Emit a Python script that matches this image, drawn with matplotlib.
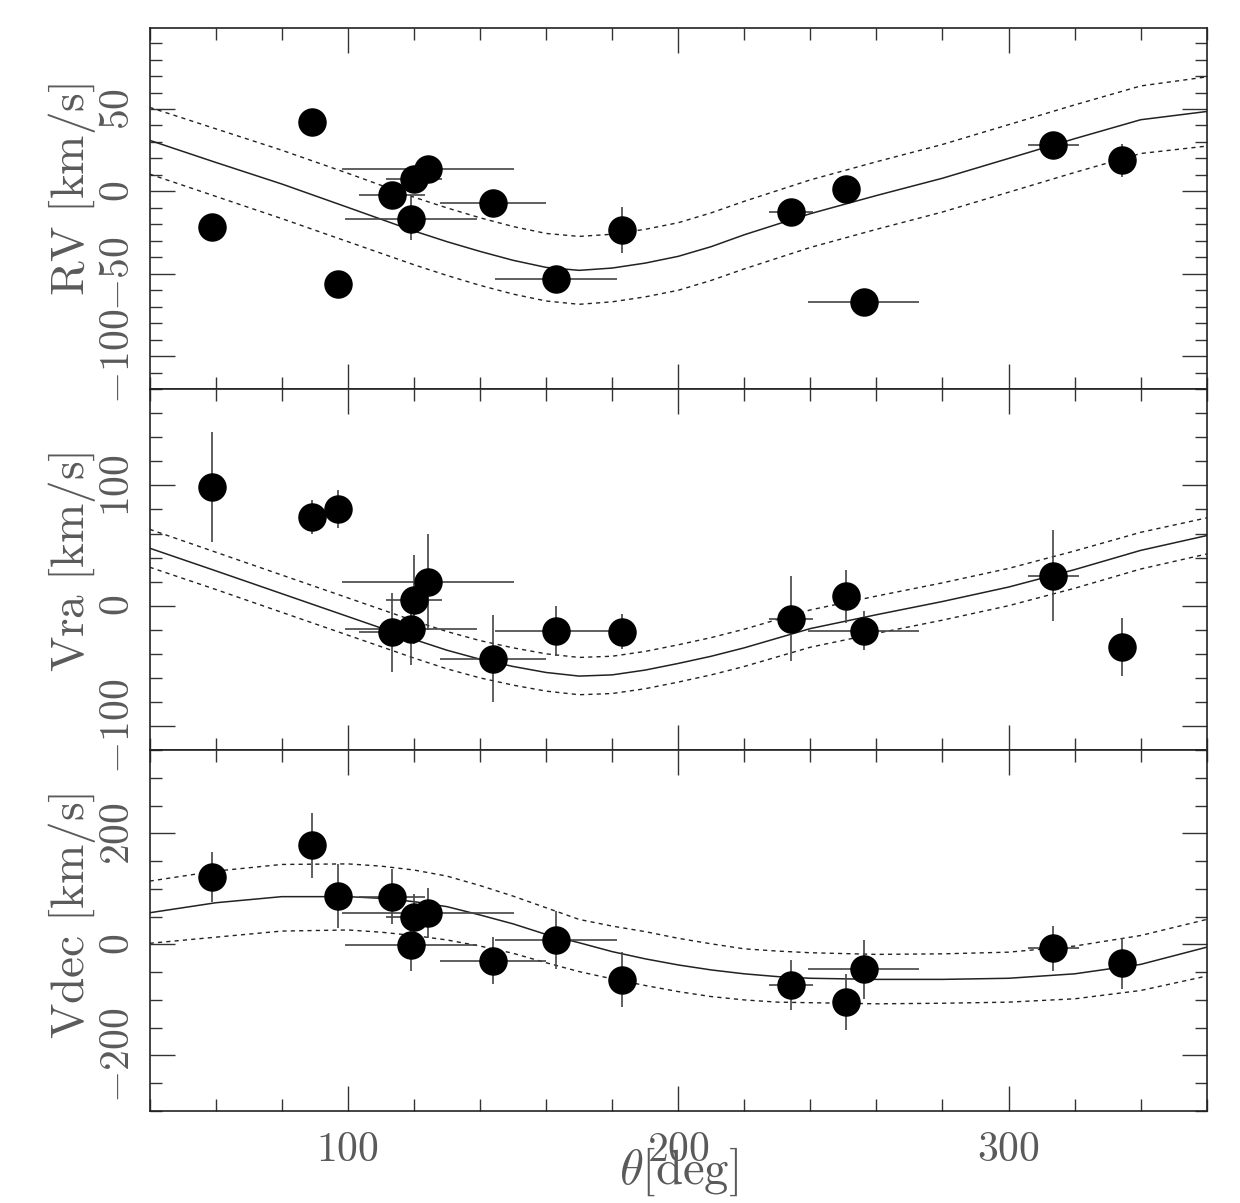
import matplotlib
matplotlib.use("Agg")
import matplotlib.pyplot as plt
from matplotlib.ticker import MultipleLocator, FuncFormatter

plt.rcParams['mathtext.fontset'] = 'cm'

# --- measured stars ---
theta = [59.0, 89.2, 97.1, 113.3, 119.0, 120.0, 124.3, 144.0, 162.9, 182.9,
         234.2, 250.8, 256.2, 313.6, 334.2]
theta_err = [0, 0, 0, 10, 20, 8.5, 26, 16, 18.5, 0, 6.6, 0, 16.8, 7.7, 0]

rv = [-21.6, 42.1, -56.2, -2.0, -16.6, 7.5, 13.8, -7.0, -53.0, -23.2,
      -12.7, 1.6, -67.1, 28.3, 19.0]
rv_err = [4, 4, 4, 4, 13, 4, 4, 4, 4, 14, 4, 4, 4, 4, 10]

vra = [98.8, 73.7, 80.4, -22.1, -19.3, 5.0, 19.6, -43.9, -21.0, -21.8,
       -10.8, 7.7, -20.7, 24.9, -34.5]
vra_err = [46, 14, 16, 33, 30, 37, 40, 36.5, 20.7, 14.5, 35.5, 22, 16, 37.7, 24]

vdec = [121.3, 178.4, 87, 86, -0.5, 49.9, 57, -29.4, 7.8, -63.6,
        -73.9, -104, -45, -7.2, -34.2]
vdec_err = [45, 58, 58, 50, 48, 40, 45, 42, 52, 50, 45, 50, 53, 40, 46]

# --- model curves ---
th_m = [40, 60, 80, 100, 120, 130, 140, 150, 160, 170, 180, 190, 200, 210, 220,
        240, 260, 280, 300, 320, 340, 360]
rv_mod = [31, 17.6, 4.5, -9.7, -24, -30.5, -36.4, -41.8, -46.1, -47.9, -46.5, -43.5,
          -39.4, -33.5, -26.3, -13.5, -2.5, 8, 20, 32, 43.5, 48.5]
rv_hi = [51, 38, 25, 11, -3.5, -10, -16, -21.3, -25.5, -27.3, -26, -23, -19, -13, -6,
         7, 18, 28.5, 40.5, 52.5, 64, 69.5]
rv_lo = [10.5, -3, -16.5, -30.5, -44.5, -51, -57, -62.3, -66.5, -68.5, -67, -64,
         -60, -54, -47, -34, -23, -12.5, -0.5, 11.5, 23, 27.5]

vra_mod = [47.8, 29, 10, -9, -28, -37, -44.5, -50.5, -55.5, -58.5, -57.5, -53.5,
           -48, -42, -35, -19, -7.5, 3.5, 15.5, 30, 46, 58.3]
vra_hi = [63.5, 44.5, 25.5, 6.5, -12.5, -21.5, -29, -35, -40, -43, -42, -38,
          -32.5, -26.5, -19.5, -3.5, 8, 19, 31, 45.5, 61, 73]
vra_lo = [32, 13.5, -5.5, -24.5, -43.5, -52.5, -60, -66, -71, -74, -73, -69,
          -63.5, -57.5, -50.5, -34.5, -23, -12, 0, 14.5, 30.5, 43]

th_d = [40, 60, 80, 100, 110, 120, 130, 140, 150, 160, 170, 180, 190, 200, 210, 220,
        230, 240, 260, 280, 300, 320, 340, 360]
vdec_mod = [57, 75, 86, 86, 83, 77, 68, 53, 37, 18, 3, -13, -26, -37, -46, -53,
            -58, -61, -63, -63, -61, -53, -36, -5]
vdec_hi = [114, 132, 144, 145, 141, 134, 123, 106, 87, 66, 45, 33, 23, 11, 1, -8,
           -12, -15, -18, -17, -14, -3, 16, 45]
vdec_lo = [2, 13, 24, 26, 22, 16, 8, -3, -16, -33, -49, -62, -74, -85, -94, -100,
           -104, -105, -107, -106, -104, -98, -83, -57]

panels = [
    (rv, rv_err, th_m, rv_mod, rv_hi, rv_lo, (-120, 99), 50, 10,
     r'$\mathrm{RV\ [km/s]}$', 0.552),
    (vra, vra_err, th_m, vra_mod, vra_hi, vra_lo, (-120, 180), 100, 20,
     r'$\mathrm{Vra\ [km/s]}$', 0.521),
    (vdec, vdec_err, th_d, vdec_mod, vdec_hi, vdec_lo, (-300, 350), 200, 50,
     r'$\mathrm{Vdec\ [km/s]}$', 0.540),
]

TXT = '#5a5a5a'
fig = plt.figure(figsize=(12.4, 12.03), dpi=100)
gs = fig.add_gridspec(3, 1, left=0.1207, right=0.9732, top=0.9765, bottom=0.0765, hspace=0)

fmt = FuncFormatter(lambda v, p: r'$%d$' % v)

for i, (vals, errs, thm, mod, hi, lo, ylim, major, minor, ylab, ly) in enumerate(panels):
    ax = fig.add_subplot(gs[i])
    ax.errorbar(theta, vals, xerr=theta_err, yerr=errs, fmt='o', ms=19.5,
                mfc='k', mec='k', ecolor='#444444', elinewidth=1.2, capsize=0, zorder=3)
    ax.plot(thm, mod, color='#222222', lw=1.1)
    ax.plot(thm, hi, color='#222222', lw=1.0, ls=(0, (3, 3)))
    ax.plot(thm, lo, color='#222222', lw=1.0, ls=(0, (3, 3)))

    ax.set_xlim(40, 360)
    ax.set_ylim(*ylim)
    ax.xaxis.set_major_locator(MultipleLocator(100))
    ax.xaxis.set_minor_locator(MultipleLocator(20))
    ax.yaxis.set_major_locator(MultipleLocator(major))
    ax.yaxis.set_minor_locator(MultipleLocator(minor))
    ax.yaxis.set_major_formatter(fmt)
    ax.xaxis.set_major_formatter(fmt)

    # inward ticks on all four sides
    ax.tick_params(which='both', direction='in', top=True, right=True,
                   color='#333333', width=1.0, labelcolor=TXT, labelsize=30)
    ax.tick_params(which='major', length=18)
    ax.tick_params(which='minor', length=8.6)
    ax.tick_params(axis='y', labelrotation=90, pad=8.6)
    ax.tick_params(axis='x', pad=12.3)
    for lbl in ax.get_yticklabels():
        lbl.set_va('center')
    if i < 2:
        ax.tick_params(axis='x', labelbottom=False)

    for sp in ax.spines.values():
        sp.set_linewidth(1.2)
        sp.set_color('#222222')

    ax.set_ylabel(ylab, fontsize=34, color=TXT)
    ax.yaxis.label.set_va('center')
    ax.yaxis.set_label_coords(-0.0738, ly)

    if i == 2:
        ax.set_xlabel(r'$\theta\mathrm{[deg]}$', fontsize=35, color=TXT)
        ax.xaxis.label.set_va('center')
        ax.xaxis.set_label_coords(0.5, -0.169)

fig.savefig('out.png', dpi=100)
